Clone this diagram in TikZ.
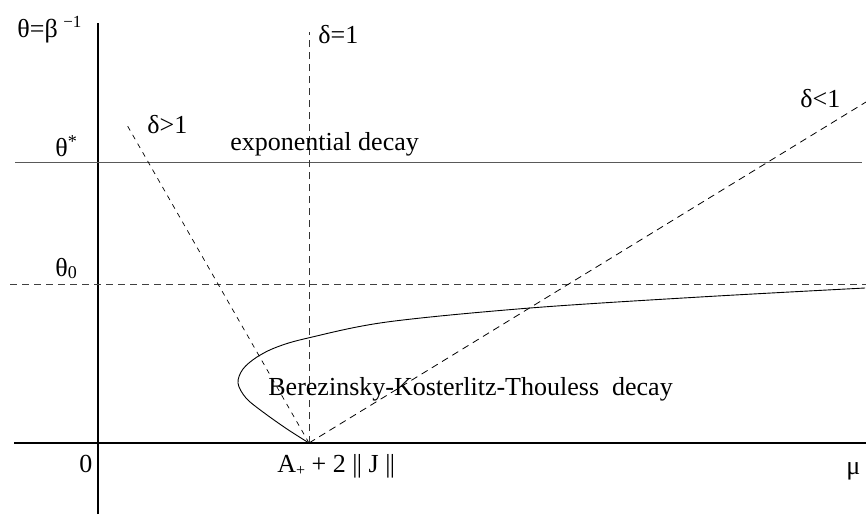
\documentclass[tikz,border=0pt]{standalone}
\usepackage{fontspec}
\setmainfont{Liberation Serif}
\newcommand{\dbar}{|\kern-0.3pt|}
\begin{document}
\begin{tikzpicture}[x=0.5pt,y=-0.5pt,
  lbl/.style={inner sep=0pt,font=\fontsize{13}{15}\selectfont},
  dsh/.style={dash pattern=on 3.5pt off 2.5pt,line width=0.4pt},
  dshs/.style={dash pattern=on 2.5pt off 2.5pt,line width=0.35pt}]
\useasboundingbox (0,0) rectangle (866,514);
% coordinates
\coordinate (O) at (98,443);
\coordinate (P) at (309,443);
\coordinate (ytop) at (98,23);
\coordinate (ybot) at (98,514);
\coordinate (xl) at (14,443);
\coordinate (xr) at (866,443);
\coordinate (tsl) at (15,162);
\coordinate (tsr) at (862,162);
\coordinate (t0l) at (10,284);
\coordinate (t0r) at (866,284);
\coordinate (d1top) at (309,32);
\coordinate (dgt) at (127,125);
\coordinate (dlt) at (866,102);
% axes
\draw[line width=0.75pt] (ybot) -- (ytop);
\draw[line width=1.1pt] (xl) -- (xr);
% theta lines
\draw[line width=0.35pt,black!65] (tsl) -- (tsr);
\draw[dsh,black!75] (t0l) -- (t0r);
% delta lines
\draw[dsh,black!80] (P) -- (d1top);
\draw[dshs] (P) -- (dgt);
\draw[dsh] (P) -- (dlt);
% BKT curve
\draw[line width=0.45pt] plot[smooth,tension=0.55] coordinates {
 (309,443) (287,429) (263,412) (246,398) (238,383) (243,369) (257,357)
 (277,347) (308,338) (387,322) (530,308) (700,297) (865,288)};
% labels
\node[lbl,anchor=base west] (th) at (17,37) {θ=β};
\node[lbl,anchor=base west,font=\fontsize{8.5}{10}\selectfont] (thm) at (63,27) {−1};
\node[lbl,anchor=base west] (ths) at (55,156) {θ\textsuperscript{*}};
\node[lbl,anchor=base west] (th0) at (55,276) {θ\raisebox{-0.25ex}{\fontsize{9}{10}\selectfont 0}};
\node[lbl,anchor=base west] (zero) at (79,472) {0};
\node[lbl,anchor=base west] (dg) at (147,133) {δ>1};
\node[lbl,anchor=base west] (de) at (318,43) {δ=1};
\node[lbl,anchor=base west] (dl) at (800,107) {δ<1};
\node[lbl,anchor=base west] (exp) at (230,150) {exponential decay};
\node[lbl,anchor=base west] (bkt) at (268,395) {Berezinsky-Kosterlitz-Thouless\ \ decay};
\node[lbl,anchor=base west] (apj) at (277,472) {A\raisebox{-0.3ex}{\fontsize{8}{9}\selectfont +} + 2 \dbar\ J \dbar};
\node[lbl,anchor=base west] (mu) at (846,474) {μ};
\end{tikzpicture}
\end{document}
